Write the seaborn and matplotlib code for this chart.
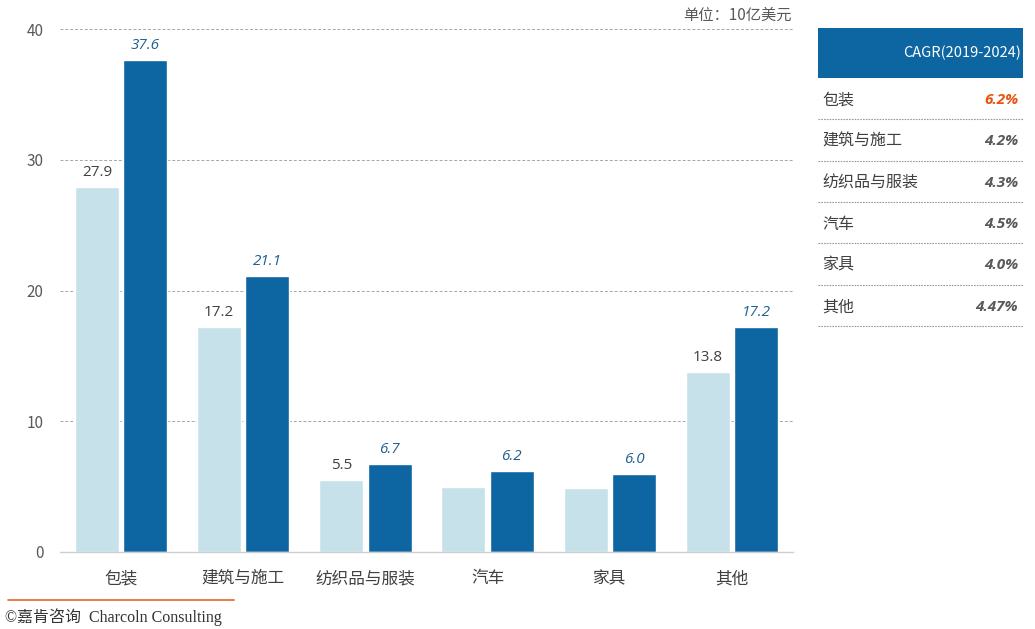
import matplotlib
matplotlib.use("Agg")
import matplotlib.pyplot as plt
import seaborn as sns
import pandas as pd
from matplotlib.patches import Rectangle

categories = ["包装", "建筑与施工", "纺织品与服装", "汽车", "家具", "其他"]
years = ["2019", "2024"]
values_2019 = [27.9, 17.2, 5.5, 5.0, 4.9, 13.8]
values_2024 = [37.6, 21.1, 6.7, 6.2, 6.0, 17.2]
labels_2019 = ["27.9", "17.2", "5.5", "", "", "13.8"]
labels_2024 = ["37.6", "21.1", "6.7", "6.2", "6.0", "17.2"]
yticks = [0, 10, 20, 30, 40]
cagr_names = ["包装", "建筑与施工", "纺织品与服装", "汽车", "家具", "其他"]
cagr_values = ["6.2%", "4.2%", "4.3%", "4.5%", "4.0%", "4.47%"]
cagr_header = "CAGR(2019-2024)"
unit_text = "单位：10亿美元"
footer_text = "©嘉肯咨询  Charcoln Consulting"

sns.set_theme(style="white")
plt.rcParams["font.family"] = ["Noto Sans CJK SC", "DejaVu Sans"]

W, H = 1035, 629
fig = plt.figure(figsize=(W / 100, H / 100), dpi=100)

def px_rect(x0, y0, x1, y1):
    return [x0 / W, 1 - y1 / H, (x1 - x0) / W, (y1 - y0) / H]

ax = fig.add_axes(px_rect(60, 29, 793, 552))

df = pd.DataFrame({
    "category": categories * 2,
    "year": [years[0]] * len(categories) + [years[1]] * len(categories),
    "value": values_2019 + values_2024,
})
light, dark = "#c6e1e9", "#0d65a2"
sns.barplot(data=df, x="category", y="value", hue="year", order=categories,
            hue_order=years, palette=[light, dark], width=0.79, gap=0.09,
            saturation=1, legend=False, ax=ax)

ax.set_ylim(0, 40)
ax.set_xlim(-0.5, len(categories) - 0.5)
ax.set_yticks(yticks)
ax.yaxis.grid(True, linestyle=(0, (3, 2)), color="#a6a6a6", linewidth=0.7)
ax.set_axisbelow(True)
for s in ["top", "right", "left"]:
    ax.spines[s].set_visible(False)
ax.spines["bottom"].set_color("#d0d0d0")
ax.spines["bottom"].set_linewidth(1.0)
ax.set_xlabel("")
ax.set_ylabel("")
ax.tick_params(axis="y", length=0, labelsize=11, labelcolor="#595959", pad=12)
ax.tick_params(axis="x", length=0, labelsize=12, labelcolor="#404040", pad=13)

c19, c24 = ax.containers[0], ax.containers[1]
ax.bar_label(c19, labels=labels_2019, padding=5, fontsize=11, color="#404040",
             family=["Open Sans", "DejaVu Sans"])
ax.bar_label(c24, labels=labels_2024, padding=5, fontsize=11, color="#1f5f91",
             fontstyle="italic", family=["Open Sans", "DejaVu Sans"])

fig.text(792 / W, 1 - 15 / H, unit_text, ha="right", va="center",
         fontsize=11, color="#595959")

# CAGR table
tax = fig.add_axes(px_rect(818, 28, 1023, 328))
tax.set_xlim(818, 1023)
tax.set_ylim(328, 28)
tax.axis("off")
tax.add_patch(Rectangle((818, 28), 205, 50, facecolor="#0d65a2", edgecolor="none"))
tax.text(1021, 53, cagr_header, ha="right", va="center", color="white", fontsize=10.5)
row_top = 78
row_h = 41.3
for i, (n, v) in enumerate(zip(cagr_names, cagr_values)):
    yc = row_top + row_h * (i + 0.5) + 1.5
    tax.text(822, yc, n, ha="left", va="center", fontsize=11.5, color="#404040")
    tax.text(1018, yc, v, ha="right", va="center", fontsize=11,
             fontweight="bold", fontstyle="italic", family=["Open Sans", "DejaVu Sans"],
             color="#e8540f" if i == 0 else "#595959")
    yl = row_top + row_h * (i + 1)
    tax.plot([818, 1023], [yl, yl], color="#9a9a9a", linewidth=0.8,
             linestyle=(0, (1.5, 1)))

# footer
fig.add_artist(plt.Line2D([8 / W, 234 / W], [1 - 600 / H, 1 - 600 / H],
                          color="#e8642a", linewidth=1.2))
fig.text(5 / W, 1 - 617 / H, footer_text, ha="left", va="center", fontsize=11.5,
         color="#333333", family=["Liberation Serif", "Noto Sans CJK SC"])

fig.savefig("out.png", dpi=100)
